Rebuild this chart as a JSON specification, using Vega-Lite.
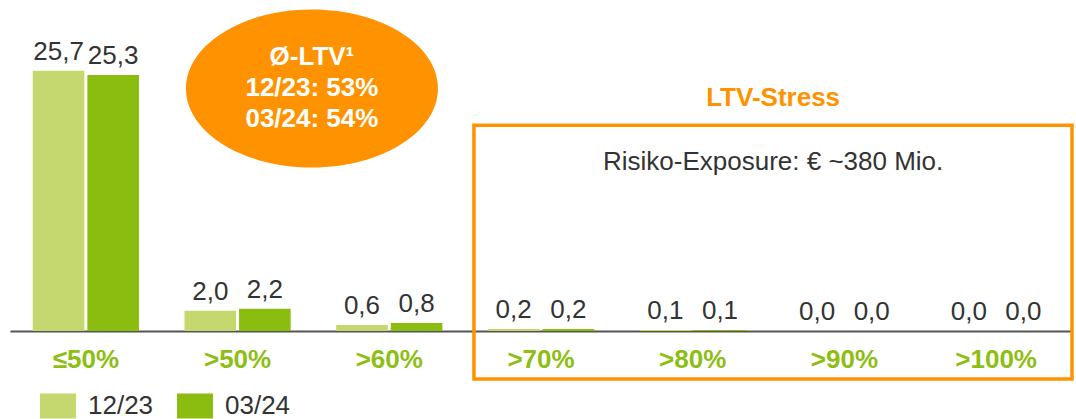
{
  "$schema": "https://vega.github.io/schema/vega-lite/v6.json",
  "width": 1062,
  "height": 331,
  "autosize": {"type": "none"},
  "padding": {"left": 10, "top": 0, "right": 4, "bottom": 88},
  "background": "white",
  "config": {"view": {"stroke": null}, "font": "Liberation Sans"},
  "datasets": {
    "bars": [
      {"band": "≤50%", "period": "12/23", "value": 25.7, "label": "25,7"},
      {"band": "≤50%", "period": "03/24", "value": 25.3, "label": "25,3"},
      {"band": ">50%", "period": "12/23", "value": 2.0, "label": "2,0"},
      {"band": ">50%", "period": "03/24", "value": 2.2, "label": "2,2"},
      {"band": ">60%", "period": "12/23", "value": 0.6, "label": "0,6"},
      {"band": ">60%", "period": "03/24", "value": 0.8, "label": "0,8"},
      {"band": ">70%", "period": "12/23", "value": 0.2, "label": "0,2"},
      {"band": ">70%", "period": "03/24", "value": 0.2, "label": "0,2"},
      {"band": ">80%", "period": "12/23", "value": 0.1, "label": "0,1"},
      {"band": ">80%", "period": "03/24", "value": 0.1, "label": "0,1"},
      {"band": ">90%", "period": "12/23", "value": 0.0, "label": "0,0"},
      {"band": ">90%", "period": "03/24", "value": 0.0, "label": "0,0"},
      {"band": ">100%", "period": "12/23", "value": 0.0, "label": "0,0"},
      {"band": ">100%", "period": "03/24", "value": 0.0, "label": "0,0"}
    ]
  },
  "layer": [
    {
      "data": {"name": "bars"},
      "encoding": {
        "x": {
          "field": "band",
          "type": "nominal",
          "sort": ["≤50%", ">50%", ">60%", ">70%", ">80%", ">90%", ">100%"],
          "scale": {"paddingInner": 0.3, "paddingOuter": 0.15},
          "axis": {
            "title": null,
            "domain": true,
            "domainColor": "#555555",
            "domainWidth": 2,
            "ticks": false,
            "tickSize": 0,
            "grid": false,
            "labelPadding": 36,
            "labelBaseline": "alphabetic",
            "labelAngle": 0,
            "labelFont": "Liberation Sans",
            "labelFontSize": 26,
            "labelFontWeight": "bold",
            "labelColor": "#8dbe13"
          }
        },
        "xOffset": {
          "field": "period",
          "type": "nominal",
          "sort": ["12/23", "03/24"],
          "scale": {"paddingInner": 0.055, "paddingOuter": 0}
        },
        "y": {
          "field": "value",
          "type": "quantitative",
          "scale": {"domain": [0, 32.7], "nice": false},
          "axis": null
        }
      },
      "layer": [
        {
          "mark": {"type": "bar"},
          "encoding": {
            "color": {
              "field": "period",
              "type": "nominal",
              "sort": ["12/23", "03/24"],
              "scale": {"range": ["#c4d86f", "#8bbc10"]},
              "legend": {
                "title": null,
                "orient": "none",
                "legendX": 30,
                "legendY": 388,
                "direction": "horizontal",
                "padding": 0,
                "symbolType": "M-1,-0.7H1V0.7H-1Z",
                "symbolSize": 1296,
                "symbolStrokeWidth": 0,
                "symbolOpacity": 1,
                "labelFont": "Liberation Sans",
                "labelFontSize": 26,
                "labelColor": "#333333",
                "labelOffset": 12,
                "columnPadding": 23
              }
            }
          }
        },
        {
          "mark": {
            "type": "text",
            "baseline": "alphabetic",
            "align": "center",
            "dy": -11,
            "fontSize": 26,
            "font": "Liberation Sans",
            "color": "#333333"
          },
          "encoding": {"text": {"field": "label", "type": "nominal"}}
        }
      ]
    },
    {
      "data": {"values": [{"shape": "ellipse"}]},
      "mark": {
        "type": "point",
        "shape": "M1,0C1,0.3463,0.5523,0.627,0,0.627C-0.5523,0.627,-1,0.3463,-1,0C-1,-0.3463,-0.5523,-0.627,0,-0.627C0.5523,-0.627,1,-0.3463,1,0Z",
        "size": 63504,
        "filled": true,
        "color": "#ff9200",
        "opacity": 1,
        "strokeWidth": 0
      },
      "encoding": {
        "x": {"datum": 1.99, "type": "quantitative", "scale": {"domain": [0, 7], "nice": false, "zero": false}, "axis": null},
        "y": {"datum": 23.96, "type": "quantitative", "scale": {"domain": [0, 32.7], "nice": false}, "axis": null}
      }
    },
    {
      "data": {"values": [{"note": "Ø-LTV¹\n12/23: 53%\n03/24: 54%"}]},
      "mark": {
        "type": "text",
        "lineBreak": "\n",
        "lineHeight": 31,
        "baseline": "alphabetic",
        "align": "center",
        "fontSize": 26,
        "fontWeight": "bold",
        "font": "Liberation Sans",
        "color": "#ffffff"
      },
      "encoding": {
        "text": {"field": "note", "type": "nominal"},
        "x": {"datum": 1.99, "type": "quantitative", "scale": {"domain": [0, 7], "nice": false, "zero": false}, "axis": null},
        "y": {"datum": 26.23, "type": "quantitative", "scale": {"domain": [0, 32.7], "nice": false}, "axis": null}
      }
    },
    {
      "data": {"values": [{"box": "LTV-Stress"}]},
      "mark": {"type": "rect", "fill": null, "fillOpacity": 0, "stroke": "#ff9200", "strokeWidth": 3.5},
      "encoding": {
        "x": {"datum": 3.058, "type": "quantitative", "scale": {"domain": [0, 7], "nice": false, "zero": false}, "axis": null},
        "x2": {"datum": 7.0},
        "y": {"datum": 20.32, "type": "quantitative", "scale": {"domain": [0, 32.7], "nice": false}, "axis": null},
        "y2": {"datum": -4.73}
      }
    },
    {
      "data": {"values": [{"note": "LTV-Stress"}]},
      "mark": {
        "type": "text",
        "baseline": "alphabetic",
        "align": "center",
        "fontSize": 26,
        "fontWeight": "bold",
        "font": "Liberation Sans",
        "color": "#ff9200"
      },
      "encoding": {
        "text": {"field": "note", "type": "nominal"},
        "x": {"datum": 5.03, "type": "quantitative", "scale": {"domain": [0, 7], "nice": false, "zero": false}, "axis": null},
        "y": {"datum": 22.19, "type": "quantitative", "scale": {"domain": [0, 32.7], "nice": false}, "axis": null}
      }
    },
    {
      "data": {"values": [{"note": "Risiko-Exposure: € ~380 Mio."}]},
      "mark": {
        "type": "text",
        "baseline": "alphabetic",
        "align": "center",
        "fontSize": 26,
        "font": "Liberation Sans",
        "color": "#333333"
      },
      "encoding": {
        "text": {"field": "note", "type": "nominal"},
        "x": {"datum": 5.03, "type": "quantitative", "scale": {"domain": [0, 7], "nice": false, "zero": false}, "axis": null},
        "y": {"datum": 15.88, "type": "quantitative", "scale": {"domain": [0, 32.7], "nice": false}, "axis": null}
      }
    }
  ],
  "resolve": {"scale": {"x": "independent"}}
}
